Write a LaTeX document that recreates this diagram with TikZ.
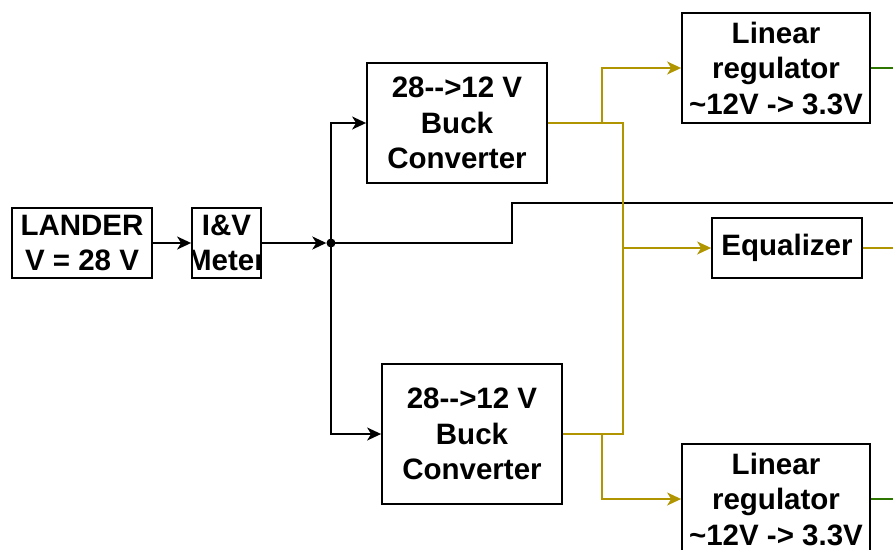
\documentclass[tikz,border=0pt]{standalone}
\usepackage{fontspec}
\setmainfont{Liberation Sans}
\usetikzlibrary{arrows.meta}
\definecolor{ylw}{HTML}{B09500}
\definecolor{grn}{HTML}{2D7600}
\tikzset{
  box/.style={draw=black, line width=1.8pt, fill=white, inner sep=0pt, align=center,
    font=\fontsize{29.5}{35.5}\selectfont\bfseries},
  conn/.style={line width=1.8pt, draw=black},
  yl/.style={line width=1.8pt, draw=ylw},
  gr/.style={line width=1.8pt, draw=grn},
  arr/.style={-{Stealth[length=14pt,width=13pt,inset=4pt]}},
}
\begin{document}
\begin{tikzpicture}[x=1pt,y=-1pt]
\useasboundingbox (0,0) rectangle (893,549);
% boxes
\node[box, minimum width=140, minimum height=70] (lander) at (82,243) {LANDER\\V = 28 V};
\node[box, minimum width=69, minimum height=70] (iv) at (226.5,243) {};
\begin{scope}
  \clip (iv.south west) rectangle (iv.north east);
  \node[box, draw=none, fill=none] (ivtext) at (iv.center) {I\&V\\Meter};
\end{scope}
\node[box, minimum width=180, minimum height=120] (b1) at (457,123) {28-{}->12 V\\Buck\\Converter};
\node[box, minimum width=180, minimum height=140] (b2) at (472,434) {28-{}->12 V\\Buck\\Converter};
\node[box, minimum width=188, minimum height=110] (l1) at (776,68) {Linear\\regulator\\\textasciitilde12V -> 3.3V};
\node[box, minimum width=150, minimum height=60] (eq) at (787,248) {Equalizer};
\node[box, minimum width=188, minimum height=110] (l2) at (776,499) {Linear\\regulator\\\textasciitilde12V -> 3.3V};
% junction
\coordinate (j) at (331,243);
\node[circle, fill=black, inner sep=0pt, minimum size=9pt] (dot) at (j) {};
\coordinate (bk1) at (512,243);
\coordinate (bkout) at (893,203);
\coordinate (ya) at (623,123);
\coordinate (yb) at (623,434);
\coordinate (ye) at (623,248);
\coordinate (yc) at (602,123);
\coordinate (yd) at (602,434);
\coordinate (g1) at (893,68);
\coordinate (g2) at (893,499);
\coordinate (eo) at (893,248);
% black connectors
\draw[conn, arr] (lander.east) -- (iv.west);
\draw[conn, arr] (iv.east) -- (dot);
\draw[conn] (j) -- (bk1) |- (bkout);
\draw[conn, arr] (j) |- (b1.west);
\draw[conn, arr] (j) |- (b2.west);
% yellow connectors
\draw[yl] (b1.east) -- (ya) -- (yb) -- (b2.east);
\draw[yl, arr] (yc) |- (l1.west);
\draw[yl, arr] (ye) -- (eq.west);
\draw[yl, arr] (yd) |- (l2.west);
\draw[yl] (eq.east) -- (eo);
% green
\draw[gr] (l1.east) -- (g1);
\draw[gr] (l2.east) -- (g2);
\end{tikzpicture}
\end{document}
